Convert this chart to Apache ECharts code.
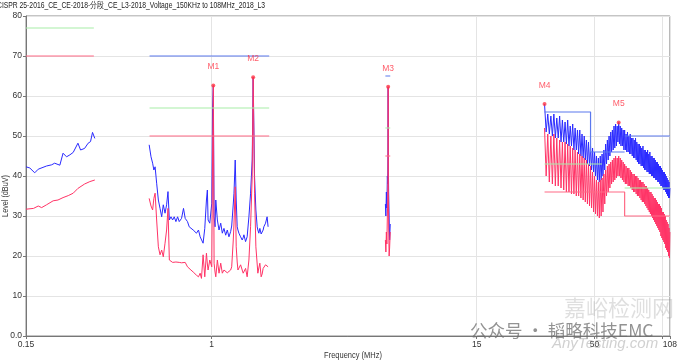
<!DOCTYPE html>
<html><head><meta charset="utf-8">
<script src="https://cdn.jsdelivr.net/npm/echarts@6/dist/echarts.min.js"></script>
<style>html,body{margin:0;padding:0;background:#fff}#c{width:680px;height:362px}</style>
</head><body><div id="c"></div>
<script>
const titleText = 'CISPR 25-2016_CE_CE-2018-分段_CE_L3-2018_Voltage_150KHz to 108MHz_2018_L3';
const xName = 'Frequency (MHz)';
const yName = 'Level (dBuV)';
const xTickLabels = [0.15, 1, 15, 50, 108];
const xGridValues = [0.15, 1, 15, 50, 100, 108];

// LW band (0.15 - 0.30 MHz)
const lwPeakFreq = [0.150,0.156,0.164,0.170,0.185,0.195,0.201,0.212,0.219,0.227,0.235,0.243,0.247,0.255,0.262,0.273,0.283,0.290,0.296,0.303];
const lwPeak = [42.3,42.0,40.8,41.7,42.5,42.8,43.2,42.7,45.7,44.8,45.3,45.9,45.4,48.2,46.5,46.9,48.2,48.6,50.9,49.4];
const lwAvgFreq = [0.150,0.162,0.170,0.176,0.185,0.198,0.208,0.219,0.231,0.243,0.255,0.273,0.288,0.303];
const lwAvg = [31.7,31.9,32.5,32.1,32.8,33.8,34.0,34.6,35.1,35.7,36.9,38.0,38.6,39.0];

// MW band (0.53 - 1.8 MHz)
const mwFreq = [0.528,0.538,0.547,0.554,0.561,0.570,0.580,0.590,0.600,0.610,0.621,0.631,0.640,0.649,0.660,0.671,0.682,0.694,0.706,0.718,0.735,0.750,0.763,0.781,0.795,0.809,0.828,0.842,0.856,0.874,0.889,0.901,0.916,0.932,0.948,0.957,0.964,0.981,1.001,1.009,1.017,1.025,1.035,1.043,1.060,1.078,1.097,1.115,1.134,1.154,1.173,1.193,1.214,1.227,1.247,1.256,1.272,1.285,1.298,1.308,1.321,1.344,1.366,1.380,1.390,1.414,1.437,1.463,1.488,1.513,1.528,1.550,1.571,1.592,1.603,1.619,1.636,1.658,1.675,1.692,1.704,1.734,1.762,1.780];
const mwPeak = [47.8,44.8,43.2,41.5,42.3,38.2,34.0,31.9,29.8,32.8,30.7,32.8,36.1,29.0,29.8,29.0,29.8,28.6,29.8,28.6,29.4,31.9,29.4,28.6,27.3,27.8,26.5,26.9,25.7,26.5,24.8,25.2,23.2,26.9,34.0,36.5,29.0,28.2,33.2,57.0,62.6,29.8,27.3,34.0,29.0,26.5,28.2,25.7,26.9,25.2,26.5,24.8,26.1,27.5,33.0,35.7,44.0,34.0,27.3,26.5,25.7,24.8,24.0,24.6,25.3,23.6,24.8,29.8,35.7,44.0,64.7,39.8,31.5,27.3,26.5,25.7,26.9,25.5,25.3,26.5,27.3,28.2,29.8,27.3];
const mwAvg = [34.4,32.5,31.5,34.4,35.7,29.0,22.3,20.3,21.5,19.8,23.2,26.5,31.9,19.0,18.6,18.4,18.3,18.5,18.6,18.4,18.3,18.6,18.4,17.3,16.9,16.5,16.0,15.7,15.2,14.8,15.7,14.4,20.3,14.8,20.7,18.0,16.5,19.0,17.3,45.0,62.6,18.2,16.0,14.8,19.0,15.7,18.2,15.7,16.5,16.5,15.8,15.3,16.5,17.3,24.0,28.0,37.3,22.3,18.5,16.5,17.0,17.8,16.5,15.7,16.2,16.9,14.8,19.0,27.3,39.8,64.7,35.7,22.3,18.0,15.7,17.0,18.2,14.8,15.5,16.9,17.3,17.8,18.0,17.3];

// SW band (5.9 - 6.2 MHz)
const swFreq = [5.90,5.93,5.96,5.99,6.02,6.04,6.06,6.07,6.08,6.10,6.13,6.16,6.20];
const swPeak = [33,30,36,32,40,38,45,62.3,44,36,30,24,28];
const swAvg = [24,21,26,23,30,33,40,62.3,38,28,20,22,26];

// VHF band (30 - 108 MHz)
const hfFreq = [30,30.5,31,31.5,32,32.5,33,33.5,34,34.5,35,35.5,36,36.5,37,37.5,38,38.5,39,39.5,40,40.5,41,41.5,42,42.5,43,43.5,44,44.5,45,45.5,46,46.5,47,47.5,48,48.5,49,49.5,50,50.5,51,51.5,52,52.5,53,53.5,54,54.5,55,55.5,56,56.5,57,57.5,58,58.5,59,59.5,60,
  60.5,61,61.5,62,62.5,63,63.5,64,64.5,65,65.5,66,66.5,67,67.5,68,68.5,69,69.5,70,70.5,71,71.5,72,72.5,73,73.5,74,74.5,75,75.5,76,76.5,77,77.5,78,78.5,79,79.5,80,80.5,81,81.5,82,82.5,83,83.5,84,84.5,85,85.5,86,86.5,87,87.5,88,88.5,89,89.5,90,90.5,91,91.5,92,92.5,93,93.5,94,94.5,95,95.5,96,96.5,97,97.5,98,98.5,99,99.5,100,100.5,101,101.5,102,102.5,103,103.5,104,104.5,105,105.5,106,106.5,107,107.5,108];
const hfPeak = [58,51,55.5,50.5,55,50,55.5,49.5,54.5,49.5,55,48.5,54,48.5,53.5,48,54,47.5,52.5,47.5,53,46.5,52,46.5,51.5,45.5,51.5,45,50.5,44.5,50,44,49,43,48.5,42.5,47.5,41.5,47,41,46,40,45,39,44.5,38.5,45,39,45.5,40,46.5,41.5,48,43,49,44,50,45,51,46,51.5,
  46.5,52.5,47,53,47.5,52.5,48.5,53.4,48,52.5,47.5,52,47.5,51.5,46.5,51.5,46.5,50.5,46,51,46,50,45.5,50.5,45.5,49.5,45,49.5,44.5,49,44.5,49.5,44,48.5,43.5,48,43,48,43,47.5,42.5,47,42.5,47.5,42,46.5,41.5,46.5,41.5,46,41,46.5,41,45.5,40.5,46,40.5,45,40,45,40,44.5,39.5,44.5,39.5,44,39,43.5,39,43.5,38.5,43,38.5,42.5,38,42.5,37.5,42,37.5,41.5,37,41,36.5,41,36.5,40.5,36,40,35.5,39.5,35,39,34.5,38.5,34.5,37];
const hfAvg = [52,40,50.5,38.5,50,38,50.5,37.5,49.5,37.5,49,37,48.5,36.5,48.5,36,48,36,47.5,35.5,47,35.5,46.5,35,46,35,45.5,34.5,45,34,44.5,33.5,44,33,43,32.5,42.5,32,41,31,40,30.5,39,30,38.5,29.5,39,30,39.5,31,40.5,33,41.5,35,42.5,36,43,37,43.5,38,44,
  38.5,44.5,39,45,39.5,44.5,40,45,40,44.5,39.5,44,39,43.5,38.5,43,38,42.5,38,42,37.5,42,37.5,41.5,37,41,36.5,40.5,36,40.5,36,40,35.5,40,35,39.5,35,39,34.5,39,34,38.5,33.5,38.5,33.5,38,33,37.5,32.5,37.5,32,37,31.5,36.5,31,36,30.5,36,30,35.5,29.5,35,29,34.5,28.5,34.5,28,34,27.5,33.5,27,33,26.5,33,26,32.5,25,32,24.5,31,24,31,23.5,30.5,23,30,22,29,21.5,28.5,21,28,20,27,19.5,26];

// Limit lines (segments of [MHz, dBuV])
const limitBlue = [[[0.53,70],[1.8,70]], [[5.9,65],[6.2,65]], [[30,56],[48,56],[48,46],[68,46]], [[68,50],[108,50]]];
const limitGreen = [[[0.15,77],[0.30,77]], [[0.53,57],[1.8,57]], [[5.9,52],[6.2,52]], [[30,43],[54,43]], [[68,37],[108,37]]];
const limitRed = [[[0.15,70],[0.30,70]], [[0.53,50],[1.8,50]], [[5.9,45],[6.2,45]], [[30,36],[68,36],[68,30],[108,30]]];

// Markers
const mkNames = ['M1','M2','M3','M4','M5'];
const mkFreq = [1.017, 1.528, 6.07, 30.0, 64];
const mkLevel = [62.6, 64.7, 62.3, 58.0, 53.4];

const FONT = 'Liberation Sans';
const PEAK = '#2a2aff', AVG = '#ff3366';
const zip = (f, v) => f.map((x, i) => [x, v[i]]);
const trace = (f, v, color, z) => ({type:'line', data: zip(f, v), showSymbol:false, symbol:'none', animation:false, z:z,
  lineStyle:{color:color, width:1}, itemStyle:{color:color}});
const limits = (segs, color) => segs.map(s => ({type:'line', data: s, showSymbol:false, symbol:'none', animation:false, z:5,
  lineStyle:{color:color, width:1.2}}));

const series = [
  trace(lwPeakFreq, lwPeak, PEAK, 2), trace(mwFreq, mwPeak, PEAK, 2), trace(swFreq, swPeak, PEAK, 2), trace(hfFreq, hfPeak, PEAK, 2),
  trace(lwAvgFreq, lwAvg, AVG, 3), trace(mwFreq, mwAvg, AVG, 3), trace(swFreq, swAvg, AVG, 3), trace(hfFreq, hfAvg, AVG, 3),
  ...limits(limitGreen, '#a8eea8'), ...limits(limitRed, '#ff6a86'), ...limits(limitBlue, '#5a78ee'),
  {type:'scatter', z:10, animation:false, symbolSize:4, itemStyle:{color:'#ff3344'},
   data: mkNames.map((n, i) => ({name:n, value:[mkFreq[i], mkLevel[i]]})),
   label:{show:true, position:'top', distance:12, formatter: p => p.name, fontSize:8.5, color:'#ff3344', fontFamily:FONT}}
];

const chart = echarts.init(document.getElementById('c'), null, {renderer:'canvas'});
chart.setOption({
  backgroundColor:'#fff',
  animation:false,
  textStyle:{fontFamily:FONT},
  grid:{left:26, right:7, top:16, bottom:26, show:true, borderColor:'#8a8a8a', borderWidth:1},
  xAxis:{type:'log', logBase:10, min:0.15, max:108,
    axisLine:{lineStyle:{color:'#777'}},
    axisTick:{show:true, customValues:xGridValues, length:3, lineStyle:{color:'#777'}},
    axisLabel:{customValues:xTickLabels, fontSize:8.5, color:'#333', margin:4, fontFamily:FONT, formatter: v => String(v)},
    splitLine:{show:true, lineStyle:{color:'#e4e4e4'}},
    minorSplitLine:{show:false}},
  yAxis:{type:'value', min:0, max:80, interval:10,
    axisLine:{show:true, lineStyle:{color:'#777'}},
    axisTick:{show:true, length:3, lineStyle:{color:'#777'}},
    axisLabel:{fontSize:8.5, color:'#333', margin:4, fontFamily:FONT, formatter: v => v === 0 ? '0.0' : String(v)},
    splitLine:{show:true, lineStyle:{color:'#e4e4e4'}}},
  graphic:[
    {type:'text', x:-3, y:1, scaleX:0.77, style:{text:titleText, fontSize:8.8, fill:'#222', fontFamily:FONT, verticalAlign:'top'}},
    {type:'text', x:6, y:196, rotation:Math.PI/2, scaleX:0.85, style:{text:yName, fontSize:8.5, fill:'#333', fontFamily:FONT, align:'center', verticalAlign:'middle'}},
    {type:'text', x:353, y:356, scaleX:0.88, style:{text:xName, fontSize:8.5, fill:'#333', fontFamily:FONT, align:'center', verticalAlign:'middle'}},
    {type:'text', x:564, y:297, z:20, style:{text:'嘉峪检测网', fontSize:22, fill:'rgba(150,150,150,0.3)', fontFamily:'Noto Sans CJK SC'}},
    {type:'text', x:470, y:322, z:20, style:{text:'公众号 · 韬略科技EMC', fontSize:17.5, fill:'rgba(110,110,110,0.75)', fontFamily:'Noto Sans CJK SC'}},
    {type:'text', x:552, y:336, z:20, style:{text:'AnyTesting.com', fontSize:15, fontStyle:'italic', fill:'rgba(150,150,150,0.45)', fontFamily:'Liberation Sans'}}
  ],
  series: series
});
</script></body></html>
